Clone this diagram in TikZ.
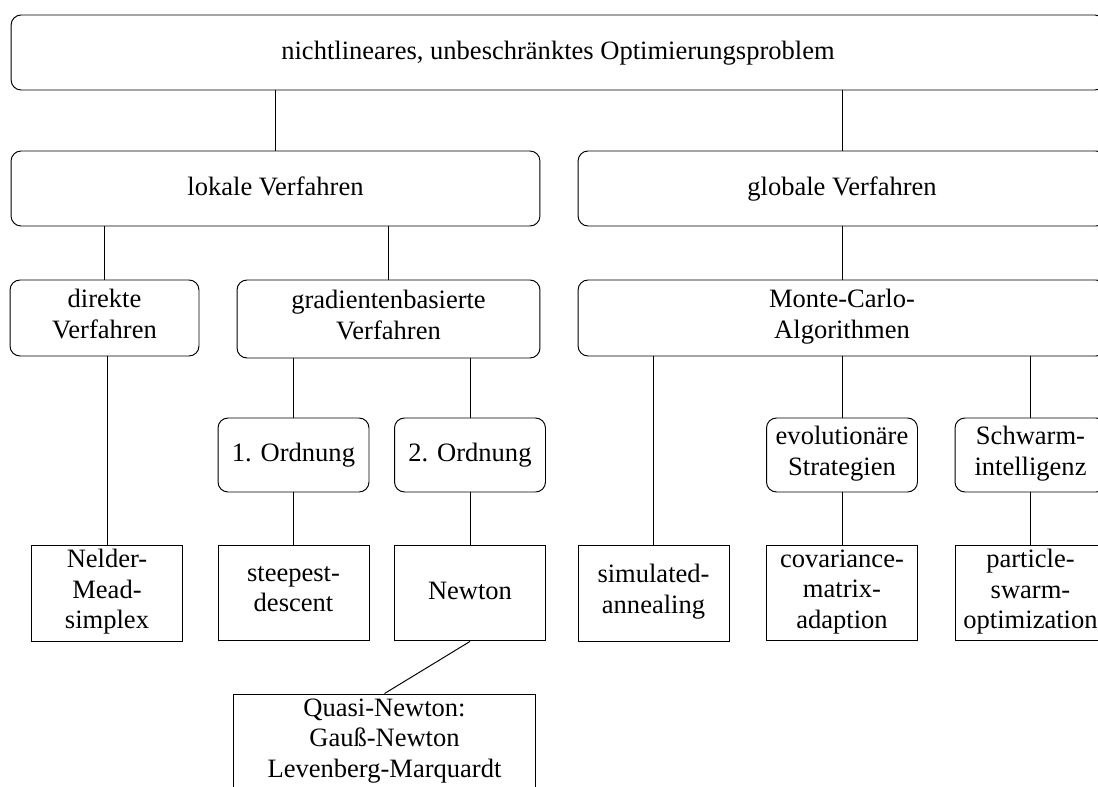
\documentclass[tikz,border=0pt]{standalone}
\usepackage{fontspec}
\setmainfont{Liberation Serif}
\newcommand{\zeilenstrut}{\rule[-0.27\baselineskip]{0pt}{\baselineskip}}

\begin{document}
\begin{tikzpicture}[x=0.02cm, y=-0.02cm, node distance=2.76cm, line width=0.55pt,
    font=\fontsize{15.1}{17.3}\selectfont,
    every node/.style={execute at begin node=\zeilenstrut, execute at end node=\zeilenstrut},
    rund/.style={draw, rounded corners=0.2cm, align=center, inner xsep=2pt, inner ysep=0.5pt},
    ordnung/.style={rund, minimum width=3.02cm, minimum height=1.48cm},
    verfahren/.style={draw, align=center, inner xsep=2pt, inner ysep=0.5pt, minimum width=3.02cm, minimum height=1.92cm}]
    \useasboundingbox (0,0) rectangle (1098,787);
    \clip (0,0) rectangle (1098,787);
            \node (problem) [rund, minimum width=21.88cm, minimum height=1.5cm] at (558,52.5) {nichtlineares, unbeschränktes Optimierungsproblem};
            \node (lokal) [rund, minimum width=10.58cm, minimum height=1.5cm] at (275.5,188.5) {lokale Verfahren};
            \node (global) [rund, minimum width=10.56cm, minimum height=1.5cm] at (842,188.5) {globale Verfahren};
            \node (direkt) [rund, minimum width=3.78cm, minimum height=1.52cm] at (104.5,318) {direkte\\Verfahren};
            \node (gradient) [rund, minimum width=6.06cm, minimum height=1.56cm] at (388.5,319) {gradientenbasierte\\Verfahren};
            \node (monte) [rund, minimum width=10.56cm, minimum height=1.52cm] at (842,318) {Monte-Carlo-\\Algorithmen};
            \node (ord1) [ordnung] at (293.5,455) {1. Ordnung};
            \node (ord2) [ordnung] at (470,455) {2. Ordnung};
            \node (evol) [ordnung] at (842,455) {evolutionäre\\Strategien};
            \node (schwarm) [ordnung] at (1030.5,455) {Schwarm-\\intelligenz};
            \node (nelder) [verfahren] at (107,593) {Nelder-\\Mead-\\simplex};
            \node (steepest) [verfahren, below of=ord1] {steepest-\\descent};
            \node (newton) [verfahren, below of=ord2] {Newton};
            \node (simulated) [verfahren] at (653.5,593) {simulated-\\annealing};
            \node (cma) [verfahren, below of=evol] {covariance-\\matrix-\\adaption};
            \node (pso) [verfahren, below of=schwarm] {particle-\\swarm-\\optimization};
            \node (quasi) [verfahren, minimum width=6.06cm] at (384.5,742) {Quasi-Newton:\\Gauß-Newton\\Levenberg-Marquardt};
            \draw (problem.south -| lokal.north)--(lokal.north);
            \draw (problem.south -| global.north)--(global.north);
            \draw (lokal.south -| direkt.north)--(direkt.north);
            \draw (lokal.south -| gradient.north)--(gradient.north);
            \draw (global.south)--(monte.north);
            \draw (direkt.south -| nelder.north)--(nelder.north);
            \draw (gradient.south -| ord1.north)--(ord1.north);
            \draw (gradient.south -| ord2.north)--(ord2.north);
            \draw (ord1.south)--(steepest.north);
            \draw (ord2.south)--(newton.north);
            \draw (newton.south)--(quasi.north);
            \draw (monte.south -| simulated.north)--(simulated.north);
            \draw (monte.south -| evol.north)--(evol.north);
            \draw (monte.south -| schwarm.north)--(schwarm.north);
            \draw (evol.south)--(cma.north);
            \draw (schwarm.south)--(pso.north);
        \end{tikzpicture}
\end{document}
